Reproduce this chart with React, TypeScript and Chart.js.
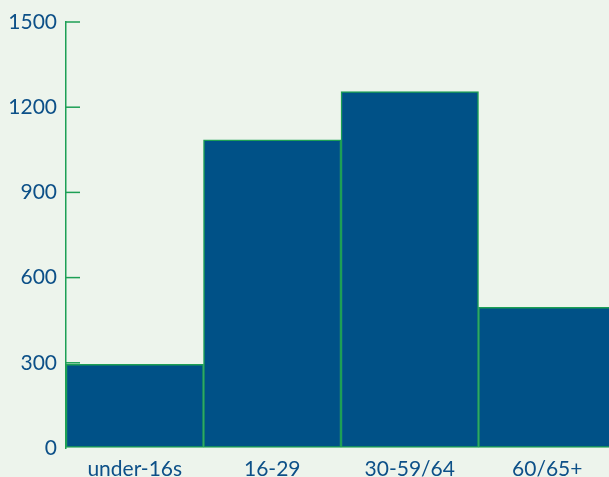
import React, { useEffect, useRef } from "react";
import { Chart, registerables } from "chart.js";

Chart.register(...registerables);

const categories = ["under-16s", "16-29", "30-59/64", "60/65+"];
const counts = [295, 1085, 1255, 495];
const yTicks = [0, 300, 600, 900, 1200, 1500];

const BG = "#edf4ec";
const BAR = "#005187";
const EDGE = "#1d9f55";
const TEXT = "#0d5088";
const FONT = "Lato, 'Open Sans', sans-serif";

// short tick marks drawn inward from the y axis line
const innerTicks = {
  id: "innerTicks",
  afterDatasetsDraw(chart: any) {
    const y = chart.scales.y;
    const ctx = chart.ctx;
    ctx.save();
    ctx.strokeStyle = EDGE;
    ctx.lineWidth = 1.5;
    for (const t of y.ticks) {
      if (t.value === 0) continue;
      const py = y.getPixelForValue(t.value);
      ctx.beginPath();
      ctx.moveTo(y.right, py);
      ctx.lineTo(y.right + 14, py);
      ctx.stroke();
    }
    ctx.restore();
  },
};

export default function App() {
  const ref = useRef<HTMLCanvasElement>(null);
  useEffect(() => {
    const chart = new Chart(ref.current!, {
      type: "bar",
      data: {
        labels: categories,
        datasets: [
          {
            data: counts,
            backgroundColor: BAR,
            borderColor: EDGE,
            borderWidth: 1.5,
            borderSkipped: false,
            categoryPercentage: 1,
            barPercentage: 1,
          },
        ],
      },
      options: {
        animation: false,
        responsive: false,
        layout: { padding: { top: 22, right: 10, bottom: 0, left: 0 } },
        plugins: { legend: { display: false }, tooltip: { enabled: false } },
        scales: {
          x: {
            grid: { display: false },
            border: { display: false },
            ticks: { color: TEXT, font: { family: FONT, size: 21 }, padding: 1, maxRotation: 0 },
            afterFit: (s: any) => { s.height = 29; },
          },
          y: {
            min: 0,
            max: 1500,
            afterBuildTicks: (s: any) => { s.ticks = yTicks.map((v) => ({ value: v })); },
            grid: { drawOnChartArea: false, drawTicks: false },
            border: { color: EDGE, width: 1.5 },
            ticks: {
              color: TEXT,
              font: { family: FONT, size: 21 },
              padding: 9,
              callback: (v: any) => String(v),
            },
            afterFit: (s: any) => { s.width = 66; },
          },
        },
      },
      plugins: [innerTicks],
    });
    return () => chart.destroy();
  }, []);
  return (
    <div style={{ position: "fixed", left: 0, top: 0, width: 609, height: 477, overflow: "hidden", background: BG }}>
      <canvas ref={ref} width={626} height={477} style={{ display: "block" }} />
    </div>
  );
}
